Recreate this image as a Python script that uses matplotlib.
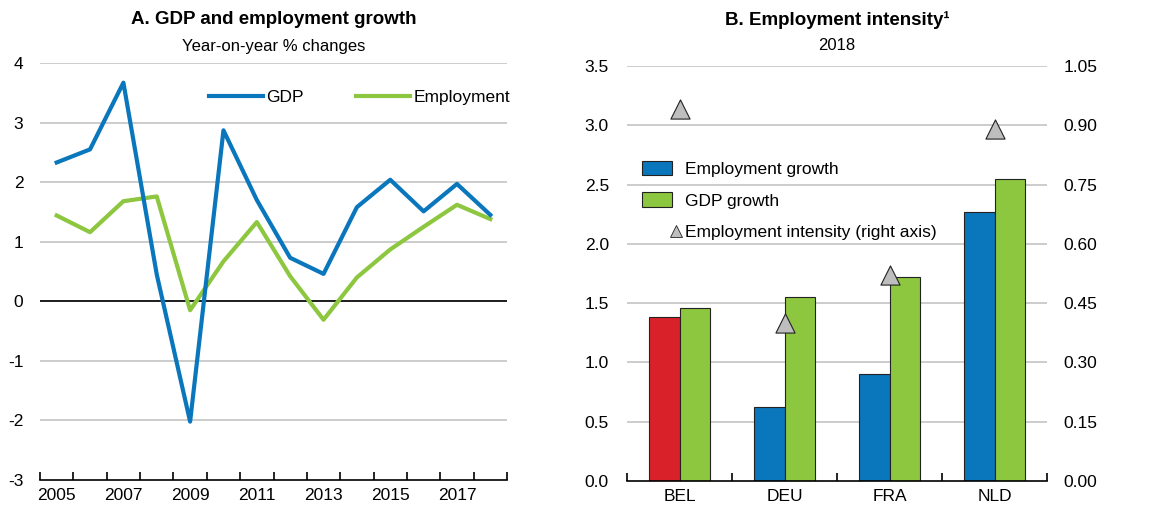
import numpy as np
import matplotlib.pyplot as plt
from matplotlib.ticker import FixedLocator
from matplotlib.patches import Patch
from matplotlib.lines import Line2D
from matplotlib.legend_handler import HandlerLine2D
from matplotlib import font_manager as fm

_names = {f.name for f in fm.fontManager.ttflist}
if "Liberation Sans Narrow" in _names:
    plt.rcParams['font.family'] = ['Liberation Sans Narrow', 'DejaVu Sans']
else:
    plt.rcParams['font.family'] = ['Liberation Sans', 'DejaVu Sans']
plt.rcParams['axes.unicode_minus'] = False

BLUE = "#0A76BC"
GREEN = "#8DC63F"
RED = "#D92129"
GRID = "#C8C8C8"
TRI = "#BEBEBE"
EDGE = "#222222"

# Panel A: annual growth, %
years = list(range(2005, 2019))
gdp = [2.33, 2.55, 3.67, 0.45, -2.02, 2.87, 1.70, 0.73, 0.46, 1.58, 2.04, 1.51, 1.97, 1.45]
employment = [1.44, 1.16, 1.68, 1.76, -0.15, 0.67, 1.33, 0.42, -0.31, 0.40, 0.87, 1.25, 1.62, 1.38]

# Panel B: 2018
countries = ["BEL", "DEU", "FRA", "NLD"]
emp_growth = [1.38, 0.62, 0.90, 2.27]
gdp_growth = [1.46, 1.55, 1.72, 2.55]
intensity = [0.94, 0.40, 0.52, 0.89]

W, H = 1157, 512
fig = plt.figure(figsize=(W / 100, H / 100), dpi=100)
ax1 = fig.add_axes([40 / W, 1 - 480 / H, 467 / W, 417 / H])
ax2 = fig.add_axes([627 / W, 1 - 481 / H, 420 / W, 415 / H])


class RightMarker(HandlerLine2D):
    # put the legend marker at the right end of the handle box
    def create_artists(self, legend, orig_handle, xdescent, ydescent, width,
                       height, fontsize, trans):
        arts = super().create_artists(legend, orig_handle, xdescent, ydescent,
                                      width, height, fontsize, trans)
        for a in arts:
            a.set_xdata([width - xdescent + 3])
        return arts


# --- panel A
ax1.set_xlim(2004.5, 2018.5)
ax1.set_ylim(-3, 4)
for v in range(-2, 5):
    ax1.axhline(v, color=GRID, lw=1.3, zorder=0)
ax1.axhline(0, color="black", lw=1.2, zorder=1)
ax1.plot(years, gdp, color=BLUE, lw=3, label="GDP", zorder=3)
ax1.plot(years, employment, color=GREEN, lw=3, label="Employment", zorder=2)
for s in ["top", "right", "left"]:
    ax1.spines[s].set_visible(False)
ax1.spines["bottom"].set_linewidth(1.2)
ax1.set_yticks(range(-3, 5))
ax1.tick_params(axis="y", length=0, pad=12, labelsize=12.5)
ax1.set_xticks(range(2005, 2019, 2))
ax1.xaxis.set_minor_locator(FixedLocator(np.arange(2004.5, 2019, 1)))
ax1.tick_params(axis="x", which="major", length=0, pad=6, labelsize=12.5)
ax1.tick_params(axis="x", which="minor", direction="in", length=6, width=1.2)
ax1.legend(loc="center left", bbox_to_anchor=(0.362, 0.918), ncol=2, frameon=False,
           fontsize=12.5, handlelength=3.1, handletextpad=0.2, columnspacing=3.0,
           borderpad=0, borderaxespad=0)
fig.text((40 + 467 / 2) / W, 1 - 20 / H, "A. GDP and employment growth",
         ha="center", va="center", fontsize=13.5, fontweight="bold")
fig.text((40 + 467 / 2) / W, 1 - 46 / H, "Year-on-year % changes",
         ha="center", va="center", fontsize=12)

# --- panel B
x = np.arange(len(countries))
w = 0.286
ax2.set_xlim(-0.5, 3.5)
ax2.set_ylim(0, 3.5)
for v in np.arange(0.5, 3.6, 0.5):
    ax2.axhline(v, color=GRID, lw=1.3, zorder=0)
emp_colors = [RED] + [BLUE] * (len(countries) - 1)
ax2.bar(x - w / 2, emp_growth, w, color=emp_colors, edgecolor=EDGE, lw=0.8, zorder=2)
ax2.bar(x + w / 2, gdp_growth, w, color=GREEN, edgecolor=EDGE, lw=0.8, zorder=2)
for s in ["top", "right", "left"]:
    ax2.spines[s].set_visible(False)
ax2.spines["bottom"].set_linewidth(1.2)
ax2.set_yticks(np.arange(0, 3.6, 0.5))
ax2.set_yticklabels([f"{v:.1f}" for v in np.arange(0, 3.6, 0.5)])
ax2.tick_params(axis="y", length=0, pad=13, labelsize=12.5)
ax2.set_xticks(x)
ax2.set_xticklabels(countries)
ax2.xaxis.set_minor_locator(FixedLocator(np.arange(-0.5, 4, 1)))
ax2.tick_params(axis="x", which="major", length=0, pad=6, labelsize=12.5)
ax2.tick_params(axis="x", which="minor", direction="in", length=6, width=1.2)

ax3 = ax2.twinx()
ax3.set_ylim(0, 1.05)
ax3.scatter(x, intensity, marker="^", s=190, color=TRI, edgecolor=EDGE,
            lw=0.8, zorder=4)
for s in ["top", "right", "left", "bottom"]:
    ax3.spines[s].set_visible(False)
ax3.set_yticks(np.arange(0, 1.06, 0.15))
ax3.set_yticklabels([f"{v:.2f}" for v in np.arange(0, 1.06, 0.15)])
ax3.tick_params(axis="y", length=0, pad=12, labelsize=12.5)

tri_handle = Line2D([], [], marker="^", ls="none", markersize=8, markerfacecolor=TRI,
                    markeredgecolor=EDGE, markeredgewidth=0.6,
                    label="Employment intensity (right axis)")
handles = [
    Patch(facecolor=BLUE, edgecolor=EDGE, lw=0.8, label="Employment growth"),
    Patch(facecolor=GREEN, edgecolor=EDGE, lw=0.8, label="GDP growth"),
    tri_handle,
]
ax3.legend(handles=handles, loc="upper left", bbox_to_anchor=(0.036, 0.772),
           frameon=False, fontsize=12.5, handlelength=1.7, handleheight=0.9,
           handletextpad=0.75, labelspacing=0.9, borderpad=0, borderaxespad=0,
           handler_map={tri_handle: RightMarker(numpoints=1)})
fig.text((627 + 420 / 2) / W, 1 - 20 / H, "B. Employment intensity\u00b9",
         ha="center", va="center", fontsize=13.5, fontweight="bold")
fig.text((627 + 420 / 2) / W, 1 - 46 / H, "2018",
         ha="center", va="center", fontsize=12)

fig.savefig("out.png", dpi=100)
